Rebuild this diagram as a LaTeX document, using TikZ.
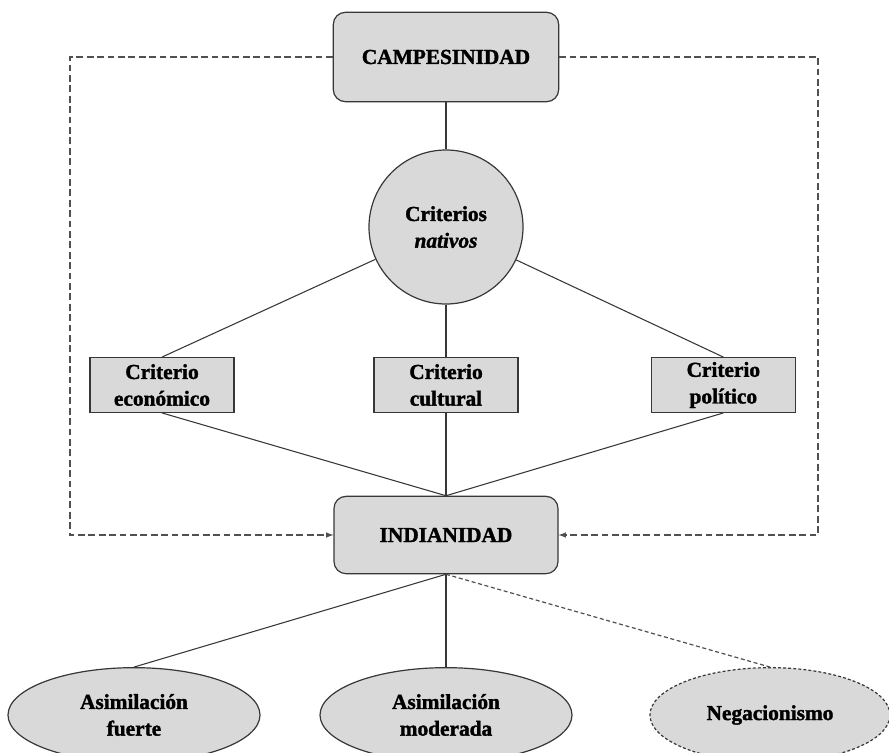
\documentclass[tikz,border=0pt]{standalone}
\usepackage{fontspec}
\setmainfont{Liberation Serif}[BoldFeatures={FakeBold=1.6}, BoldItalicFeatures={FakeBold=1.6}]
\usepackage{tikz}
\usetikzlibrary{shapes,shapes.geometric,arrows}

\definecolor{relleno}{RGB}{217,217,217}
\definecolor{borde}{RGB}{55,55,55}
\definecolor{trazo}{RGB}{80,80,80}

\begin{document}
\begin{tikzpicture}[x=0.75pt, y=-0.75pt,
		every node/.style={font=\fontsize{16}{20}\selectfont\bfseries, align=center},
		caja/.style={draw=borde, fill=relleno, rounded corners=9pt, line width=0.9pt, inner sep=0pt},
		criterio/.style={draw=borde, fill=relleno, line width=0.9pt, minimum width=108pt, minimum height=41pt, inner sep=0pt},
		elipse/.style={ellipse, draw=borde, fill=relleno, line width=0.9pt, minimum width=189pt, minimum height=71pt, inner sep=0pt},
		linea/.style={draw=borde, line width=0.8pt},
		discont/.style={draw=trazo, line width=0.9pt, dash pattern=on 5pt off 2.8pt}]
			\useasboundingbox (0,0) rectangle (889,753);
			
			\node[caja, minimum width=169pt, minimum height=67pt] (camp) at (446,57) {CAMPESINIDAD};
			\node[circle, draw=borde, fill=relleno, line width=0.9pt, minimum size=115.5pt, inner sep=0pt, below of=camp, node distance=127.5pt] (nat) {Criterios\\\textit{nativos}};
			
			\node[criterio, below of=nat, node distance=118.5pt] (cul) {Criterio\\cultural};
			\node[criterio, left of=cul, node distance=213pt] (eco) {Criterio\\económico};
			\node[criterio, right of=cul, node distance=208pt] (pol) {Criterio\\político};
			
			\node[caja, minimum width=168pt, minimum height=58pt, below of=cul, node distance=112.5pt] (ind) {INDIANIDAD};
			
			\node[elipse, below of=ind, node distance=135pt] (mod) {Asimilación\\moderada};
			\node[elipse, left of=mod, node distance=234pt] (fue) {Asimilación\\fuerte};
			\node[elipse, right of=mod, node distance=243pt, minimum width=180pt, dash pattern=on 2.2pt off 1.6pt] (neg) {Negacionismo};
			
			\coordinate[left of=camp, node distance=282pt] (izq);
			\coordinate[right of=camp, node distance=279pt] (der);
			
			\draw[linea] (camp) -- (nat);
			\draw[linea] (nat) -- (eco.north);
			\draw[linea] (nat) -- (cul);
			\draw[linea] (nat) -- (pol.north);
			\draw[linea] (eco.south) -- (ind.north);
			\draw[linea] (cul) -- (ind.north);
			\draw[linea] (pol.south) -- (ind.north);
			\draw[linea] (ind.south) -- (fue.north);
			\draw[linea] (ind.south) -- (mod.north);
			\draw[discont, dash pattern=on 3pt off 2pt] (ind.south) -- (neg.north);
			
			\draw[discont, -latex] (camp.west) -- (izq) |- (ind.west);
			\draw[discont, -latex] (camp.east) -- (der) |- (ind.east);
		\end{tikzpicture}
\end{document}
